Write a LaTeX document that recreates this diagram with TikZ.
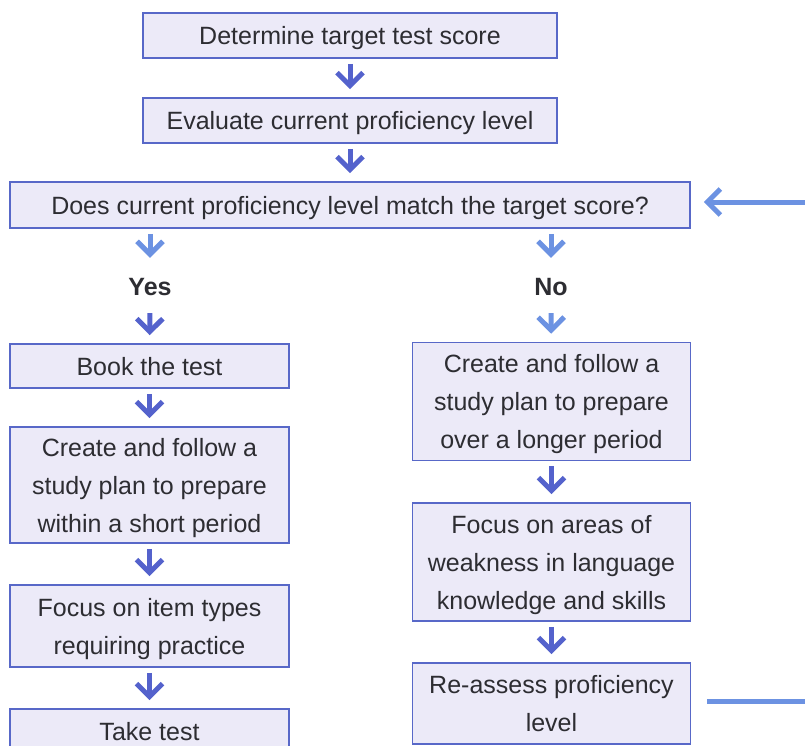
\documentclass[tikz,border=0pt]{standalone}
\usepackage{fontspec}
\setmainfont{Liberation Sans}
\usetikzlibrary{arrows.meta}

\definecolor{boxfill}{RGB}{236,234,248}
\definecolor{boxline}{RGB}{88,104,200}
\definecolor{arrowdark}{RGB}{84,98,204}
\definecolor{arrowlight}{RGB}{108,146,226}
\definecolor{textgray}{RGB}{45,45,50}

\begin{document}
\begin{tikzpicture}[x=1pt, y=-1pt, > = {Straight Barb[length=13pt, width=26pt]}, % one unit is one pixel of the page, y runs down
  stepbox/.style={draw=boxline, fill=boxfill, line width=1.6pt, inner sep=0pt, align=center, text=textgray, font=\fontsize{25}{38}\selectfont},
  onebox/.style={stepbox, execute at begin node={\rule{0pt}{24pt}}, execute at end node={\rule[-5pt]{0pt}{0pt}}},
  morebox/.style={stepbox, text depth=-6pt},
  answer/.style={inner sep=0pt, minimum height=42pt, text=textgray, font=\fontsize{25}{30}\selectfont\bfseries},
  down/.style={->, line width=5pt, shorten <=5pt, shorten >=8pt},
  backline/.style={line width=5pt, draw=arrowlight}]
  \useasboundingbox (0,0) rectangle (805,745);

  \node[onebox, minimum width=414pt, minimum height=45pt] (det) at (350,35.5) {Determine target test score};
  \node[onebox, minimum width=414pt, minimum height=45pt] (eval) at (350,120.5) {Evaluate current proficiency level};
  \node[onebox, minimum width=680pt, minimum height=46pt] (quest) at (350,205) {Does current proficiency level match the target score?};

  \node[answer] (yes) at (150,287) {Yes};
  \node[answer] (no) at (551,287) {No};

  \node[onebox, minimum width=279pt, minimum height=44pt] (book) at (149.5,366) {Book the test};
  \node[morebox, minimum width=279pt, minimum height=116pt] (planL) at (149.5,485) {Create and follow a\\study plan to prepare\\within a short period};
  \node[morebox, minimum width=279pt, minimum height=82pt] (itemL) at (149.5,626) {Focus on item types\\requiring practice};
  \node[onebox, minimum width=279pt, minimum height=44pt] (take) at (149.5,731) {Take test};

  \node[morebox, minimum width=278pt, minimum height=118pt] (planR) at (551.5,401.5) {Create and follow a\\study plan to prepare\\over a longer period};
  \node[morebox, minimum width=278pt, minimum height=118pt] (weakR) at (551.5,562) {Focus on areas of\\weakness in language\\knowledge and skills};
  \node[morebox, minimum width=278pt, minimum height=81pt] (reR) at (551.5,703.5) {Re-assess proficiency\\level};

  \coordinate (loopin) at (805,202);
  \coordinate (loopout) at (805,701);

  \path [down, draw=arrowdark] (det) edge (eval);
  \path [down, draw=arrowdark] (eval) edge (quest);
  \draw [down, draw=arrowlight] (yes |- quest.south) -- (yes);
  \draw [down, draw=arrowlight] (no |- quest.south) -- (no);
  \path [down, draw=arrowdark] (yes) edge (book);
  \path [down, draw=arrowdark] (book) edge (planL);
  \path [down, draw=arrowdark] (planL) edge (itemL);
  \path [down, draw=arrowdark] (itemL) edge (take);
  \path [down, draw=arrowlight] (no) edge (planR);
  \path [down, draw=arrowdark] (planR) edge (weakR);
  \path [down, draw=arrowdark] (weakR) edge (reR);

  \draw [backline, ->, shorten >=13pt] (loopin) -- (quest.east |- loopin);
  \draw [backline, shorten <=16pt] (reR.east |- loopout) -- (loopout);
\end{tikzpicture}
\end{document}
